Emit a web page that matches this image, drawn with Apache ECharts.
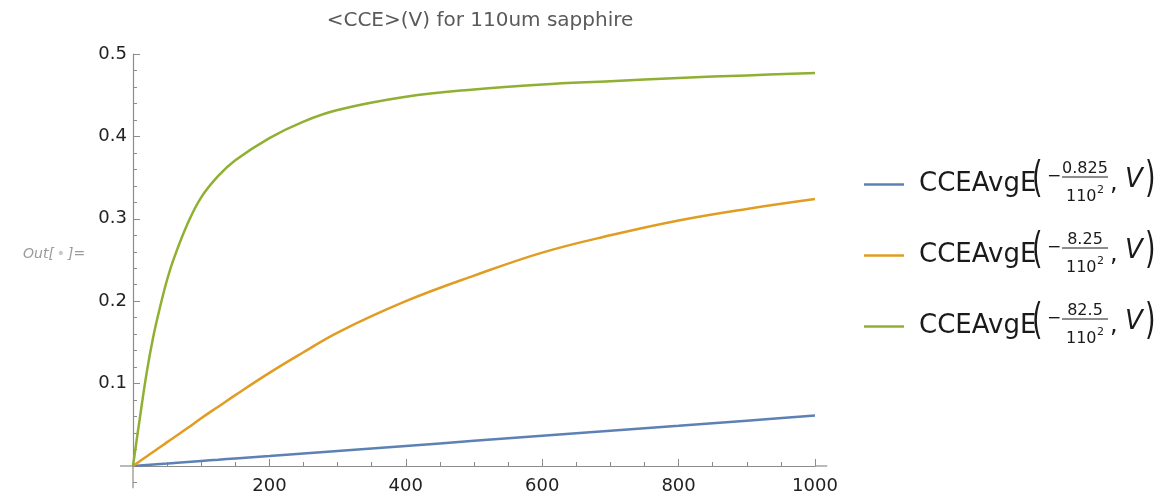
<!DOCTYPE html>
<html>
<head>
<meta charset="utf-8">
<title>CCE vs V</title>
<script src="https://cdn.jsdelivr.net/npm/echarts@6/dist/echarts.min.js"></script>
<style>
  html, body { margin: 0; padding: 0; background: #fff; }
  #chart { width: 1176px; height: 497px; }
</style>
</head>
<body>
<div id="chart"></div>
<script>
// bias voltage samples (V)
var volts = [0, 10, 20, 30, 40, 50, 60, 80, 100, 125, 150, 200, 250, 300, 400, 500, 600, 700, 800, 900, 1000];
// <CCE> for each curve
var cceBlue   = [0, 0.0006, 0.0012, 0.0018, 0.0024, 0.003, 0.0037, 0.0049, 0.0061, 0.0076, 0.0092, 0.0122, 0.0153, 0.0183, 0.0244, 0.0305, 0.0366, 0.0427, 0.0488, 0.055, 0.0612];
var cceOrange = [0, 0.0058, 0.0116, 0.0173, 0.023, 0.029, 0.0346, 0.046, 0.058, 0.072, 0.086, 0.113, 0.138, 0.162, 0.2, 0.231, 0.259, 0.28, 0.298, 0.312, 0.324];
var cceGreen  = [0, 0.058, 0.113, 0.158, 0.194, 0.226, 0.252, 0.294, 0.326, 0.352, 0.371, 0.398, 0.418, 0.432, 0.448, 0.457, 0.463, 0.467, 0.471, 0.474, 0.477];
// legend fraction numerators
var numerators = ['0.825', '8.25', '82.5'];
var xTicks = [200, 400, 600, 800, 1000];
var yTicks = [0.1, 0.2, 0.3, 0.4, 0.5];

var colors = ['#5e81b5', '#e19c24', '#8fb032'];
var FONT = 'DejaVu Sans';
var AXIS_COLOR = '#8c8c8c';

function pairs(ys) {
    return volts.map(function (v, i) { return [v, ys[i]]; });
}

var myChart = echarts.init(document.getElementById('chart'), null, { renderer: 'canvas' });

var names = ['s1', 's2', 's3'];
var allValues = [cceBlue, cceOrange, cceGreen];

var option = {
    animation: false,
    color: colors,
    title: {
        text: '<CCE>(V) for 110um sapphire',
        left: 475,
        textAlign: 'center',
        top: 6,
        textStyle: { fontFamily: FONT, fontSize: 20, fontWeight: 'normal', color: '#5a5a5a' }
    },
    grid: { left: 133, right: 361, top: 54, bottom: 31 },
    legend: {
        orient: 'vertical',
        left: 859,
        top: 164.5,
        icon: 'rect',
        itemWidth: 40,
        itemHeight: 2.5,
        itemGap: 41,
        data: names,
        formatter: function () { return 'CCEAvgE'; },
        textStyle: {
            fontFamily: FONT, fontSize: 26, color: '#1a1a1a',
            lineHeight: 30, padding: [0, 0, 0, 10]
        }
    },
    xAxis: {
        type: 'value',
        min: 0,
        max: 1000,
        interval: 200,
        axisLine: { onZero: true, lineStyle: { color: AXIS_COLOR, width: 1.2 } },
        axisTick: { inside: true, length: 7, lineStyle: { color: AXIS_COLOR } },
        minorTick: { show: true, splitNumber: 4, length: 4, lineStyle: { color: AXIS_COLOR } },
        splitLine: { show: false },
        axisLabel: {
            margin: 11, fontFamily: FONT, fontSize: 18, color: '#222',
            showMinLabel: false,
            formatter: function (v) { return xTicks.indexOf(v) >= 0 ? String(v) : ''; }
        }
    },
    yAxis: {
        type: 'value',
        min: 0,
        max: 0.5,
        interval: 0.1,
        axisLine: { show: true, onZero: true, lineStyle: { color: AXIS_COLOR, width: 1.2 } },
        axisTick: { show: true, inside: true, length: 7, lineStyle: { color: AXIS_COLOR } },
        minorTick: { show: true, splitNumber: 5, length: 4, lineStyle: { color: AXIS_COLOR } },
        splitLine: { show: false },
        axisLabel: {
            margin: 6, fontFamily: FONT, fontSize: 18, color: '#222',
            showMinLabel: false,
            formatter: function (v) {
                var s = +v.toFixed(1);
                return yTicks.indexOf(s) >= 0 ? s.toFixed(1) : '';
            }
        }
    },
    series: allValues.map(function (vals, i) {
        return {
            name: names[i],
            type: 'line',
            data: pairs(vals),
            smooth: 0.4,
            symbol: 'none',
            showSymbol: false,
            lineStyle: { width: 2.5, color: colors[i] },
            itemStyle: { color: colors[i] }
        };
    })
};

myChart.setOption(option);

// axis overhang (Mathematica style) and the legend fractions
function px(pt) { return myChart.convertToPixel({ gridIndex: 0 }, pt); }
var o = px([0, 0]);
var xl = px([-19, 0]);
var xr = px([1018, 0]);
var yb = px([0, -0.027]);
var ym = px([0, -0.02]);
var gfx = [
    { type: 'line', shape: { x1: xl[0], y1: o[1], x2: o[0], y2: o[1] }, style: { stroke: AXIS_COLOR, lineWidth: 1.2 } },
    { type: 'line', shape: { x1: px([1000, 0])[0], y1: o[1], x2: xr[0], y2: o[1] }, style: { stroke: AXIS_COLOR, lineWidth: 1.2 } },
    { type: 'line', shape: { x1: o[0], y1: o[1], x2: o[0], y2: yb[1] }, style: { stroke: AXIS_COLOR, lineWidth: 1.2 } },
    { type: 'line', shape: { x1: o[0], y1: ym[1], x2: o[0] + 4, y2: ym[1] }, style: { stroke: AXIS_COLOR, lineWidth: 1 } },
    {
        type: 'text', left: 23, top: 247,
        style: {
            text: 'Out[{d|•}]=', fontFamily: FONT, fontSize: 14, fontStyle: 'italic', fill: '#9a9a9a',
            rich: { d: { fontFamily: FONT, fontSize: 14, fill: '#c8c8c8', padding: [0, 3, 0, 3] } }
        }
    }
];

var txtColor = '#1a1a1a';
numerators.forEach(function (num, i) {
    var y0 = 179.5 + 71 * i;
    gfx.push(
        { type: 'text', x: 1032, y: y0 + 1, scaleY: 1.6, style: { text: '(', fontFamily: FONT, fontSize: 27, fill: txtColor, verticalAlign: 'middle' } },
        { type: 'text', x: 1047, y: y0 - 3, style: { text: '\u2212', fontFamily: FONT, fontSize: 17, fill: txtColor, verticalAlign: 'middle' } },
        { type: 'text', x: 1085, y: y0 - 11, style: { text: num, fontFamily: FONT, fontSize: 16, fill: txtColor, align: 'center', verticalAlign: 'middle' } },
        { type: 'line', shape: { x1: 1062, y1: y0 - 2.5, x2: 1108, y2: y0 - 2.5 }, style: { stroke: txtColor, lineWidth: 1 } },
        { type: 'text', x: 1066, y: y0 + 17, style: { text: '110', fontFamily: FONT, fontSize: 16, fill: txtColor, verticalAlign: 'middle' } },
        { type: 'text', x: 1097, y: y0 + 11, style: { text: '2', fontFamily: FONT, fontSize: 11, fill: txtColor, verticalAlign: 'middle' } },
        { type: 'text', x: 1110, y: y0 + 4, style: { text: ',', fontFamily: FONT, fontSize: 24, fill: txtColor, verticalAlign: 'middle' } },
        { type: 'text', x: 1125, y: y0 + 1, style: { text: 'V', fontFamily: FONT, fontSize: 26, fontStyle: 'italic', fill: txtColor, verticalAlign: 'middle' } },
        { type: 'text', x: 1145, y: y0 + 1, scaleY: 1.6, style: { text: ')', fontFamily: FONT, fontSize: 27, fill: txtColor, verticalAlign: 'middle' } }
    );
});

myChart.setOption({ graphic: gfx });

window.addEventListener('resize', function () {
    myChart.resize();
});
</script>
</body>
</html>
